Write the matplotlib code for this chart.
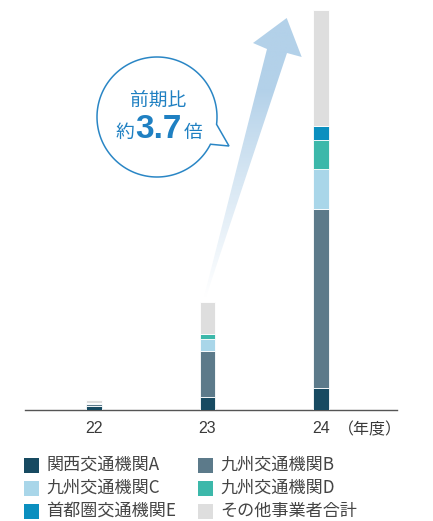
import numpy as np
import matplotlib
matplotlib.use("Agg")
import matplotlib.pyplot as plt
from matplotlib.patches import Polygon, Rectangle

plt.rcParams['font.family'] = ['Noto Sans CJK JP', 'DejaVu Sans']

# 年度別の内訳（積み上げ）
years = ['22', '23', '24']
series_names = ['関西交通機関A', '九州交通機関B', '九州交通機関C',
                '九州交通機関D', '首都圏交通機関E', 'その他事業者合計']
kansai_a = [4.0, 13.0, 21.5]
kyushu_b = [1.5, 45.7, 179.0]
kyushu_c = [1.2, 12.3, 40.0]
kyushu_d = [0.3, 4.7, 29.0]
shutoken_e = [0.0, 0.0, 14.0]
others = [3.0, 32.3, 116.0]
series_colors = ['#174a61', '#5c7a8a', '#a9d6e9', '#3cb8aa', '#0b8fbf', '#dedede']

W, H = 433, 521
fig = plt.figure(figsize=(W / 100, H / 100), dpi=100)

# main bar axes (pixel box 25..397 x 9.5..409.5)
ax = fig.add_axes([25 / W, (H - 409.5) / H, (397 - 25) / W, 400 / H])
x = np.arange(len(years))
bottom = np.zeros(len(years))
for vals, col in zip([kansai_a, kyushu_b, kyushu_c, kyushu_d, shutoken_e, others], series_colors):
    ax.bar(x, vals, width=0.14, bottom=bottom, color=col, edgecolor='white', linewidth=0.6, zorder=3)
    bottom += np.array(vals)
ax.set_xlim((25 - 94) / 113.5, (397 - 94) / 113.5)
ax.set_ylim(0, 400)
ax.set_yticks([])
ax.set_xticks(x)
ax.set_xticklabels(years, family=['Liberation Sans', 'DejaVu Sans'], fontsize=11.5, color='#3a3a3a')
ax.tick_params(axis='x', length=0, pad=8)
for s in ['top', 'left', 'right']:
    ax.spines[s].set_visible(False)
ax.spines['bottom'].set_color('#555555')
ax.spines['bottom'].set_linewidth(1.0)
ax.patch.set_alpha(0)

# overlay in pixel coordinates for annotations and legend
ov = fig.add_axes([0, 0, 1, 1], zorder=-1)
ov.set_xlim(0, W)
ov.set_ylim(H, 0)
ov.axis('off')

ov.text(370, 430, '（年度）', ha='center', va='center', fontsize=11.5, color='#3a3a3a')

# growth arrow with fade
arrow_pts = [(204, 297), (206, 297), (287, 53), (301.7, 57), (286.7, 18), (253, 43), (267, 49)]
arrow = Polygon(arrow_pts, closed=True, facecolor='none', edgecolor='none')
ov.add_patch(arrow)
ys = np.linspace(15, 300, 300)
t = np.clip((ys - 90) / (297 - 90), 0, 1) ** 0.9
top_c = np.array([179, 209, 233]) / 255
grad = top_c[None, :] * (1 - t[:, None]) + np.ones(3)[None, :] * t[:, None]
img = ov.imshow(grad[:, None, :], extent=(195, 310, 300, 15), origin='upper', aspect='auto')
img.set_clip_path(arrow)
ov.set_xlim(0, W)
ov.set_ylim(H, 0)

# speech bubble
cx, cy, r = 157, 117, 60
ang = np.radians(np.linspace(27, 367, 200))
bx = cx + r * np.cos(ang)
by = cy + r * np.sin(ang)
bubble = np.column_stack([np.append(bx, 229), np.append(by, 146)])
ov.add_patch(Polygon(bubble, closed=True, facecolor='white', edgecolor='#2a86c5', linewidth=1.1, zorder=5))
blue = '#1f80c2'
ov.text(158, 100, '前期比', ha='center', va='center', fontsize=13.5, color=blue, zorder=6)
ov.text(116, 138, '約', ha='left', va='baseline', fontsize=13.5, color=blue, zorder=6)
ov.text(135, 138, '3.7', ha='left', va='baseline', fontsize=24, fontweight='bold',
        family=['Liberation Sans', 'DejaVu Sans'], color=blue, zorder=6)
ov.text(184, 138, '倍', ha='left', va='baseline', fontsize=13.5, color=blue, zorder=6)

# legend, two columns
for i, (name, col) in enumerate(zip(series_names, series_colors)):
    row, colm = divmod(i, 2)
    lx = 24 if colm == 0 else 198
    ly = 465 + row * 23
    ov.add_patch(Rectangle((lx, ly - 7.5), 15, 15, facecolor=col, edgecolor='none'))
    ov.text(lx + 22, ly, name, ha='left', va='center', fontsize=12.3, color='#444444')

fig.savefig('out.png', dpi=100)
